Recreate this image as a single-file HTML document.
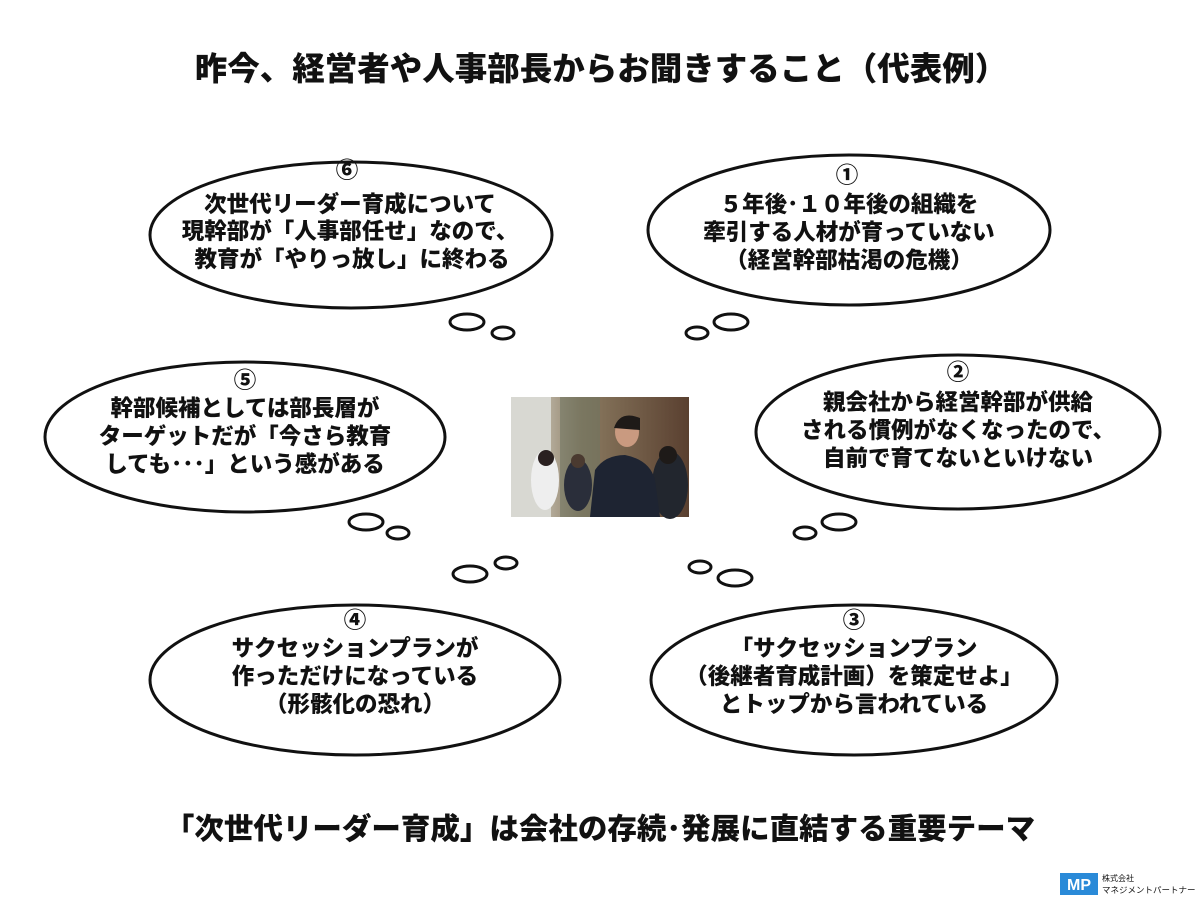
<!DOCTYPE html>
<html><head><meta charset="utf-8"><style>
body{margin:0;background:#fff;}
svg text{font-family:"Liberation Sans","Noto Sans CJK JP",sans-serif;font-weight:900;fill:#111;}
</style></head><body>
<svg width="1200" height="900" viewBox="0 0 1200 900" xmlns="http://www.w3.org/2000/svg">
<defs>
<linearGradient id="bg" x1="0" x2="1"><stop offset="0" stop-color="#e6e6e0"/><stop offset="0.4" stop-color="#8a7a60"/><stop offset="1" stop-color="#5a4030"/></linearGradient>
</defs>
<text x="601" y="80" font-size="32.5" text-anchor="middle">昨今、経営者や人事部長からお聞きすること（代表例）</text>
<g fill="#fff" stroke="#111" stroke-width="3">
<ellipse cx="351" cy="235" rx="201" ry="73"/>
<ellipse cx="467" cy="322" rx="17" ry="8"/><ellipse cx="503" cy="333" rx="11" ry="6"/>
<ellipse cx="849" cy="230" rx="201" ry="75"/>
<ellipse cx="731" cy="322" rx="17" ry="8"/><ellipse cx="697" cy="333" rx="11" ry="6"/>
<ellipse cx="245" cy="437" rx="200" ry="75"/>
<ellipse cx="366" cy="522" rx="17" ry="8"/><ellipse cx="398" cy="533" rx="11" ry="6"/>
<ellipse cx="958" cy="432" rx="202" ry="77"/>
<ellipse cx="839" cy="522" rx="17" ry="8"/><ellipse cx="805" cy="533" rx="11" ry="6"/>
<ellipse cx="355" cy="680" rx="205" ry="75"/>
<ellipse cx="470" cy="574" rx="17" ry="8"/><ellipse cx="506" cy="563" rx="11" ry="6"/>
<ellipse cx="854" cy="680" rx="203" ry="75"/>
<ellipse cx="735" cy="578" rx="17" ry="8"/><ellipse cx="700" cy="567" rx="11" ry="6"/>
</g>
<g font-size="22.5" text-anchor="middle">
<text x="347" y="178">⑥</text>
<text x="350" y="212">次世代リーダー育成について</text>
<text x="350" y="239">現幹部が「人事部任せ」なので、</text>
<text x="352" y="267">教育が「やりっ放し」に終わる</text>
<text x="847" y="183">①</text>
<text x="849" y="212">５年後･１０年後の組織を</text>
<text x="849" y="240">牽引する人材が育っていない</text>
<text x="849" y="268">（経営幹部枯渇の危機）</text>
<text x="245" y="388">⑤</text>
<text x="245" y="416">幹部候補としては部長層が</text>
<text x="245" y="444">ターゲットだが「今さら教育</text>
<text x="245" y="472">しても･･･」という感がある</text>
<text x="958" y="380">②</text>
<text x="958" y="410">親会社から経営幹部が供給</text>
<text x="958" y="438">される慣例がなくなったので、</text>
<text x="958" y="466">自前で育てないといけない</text>
<text x="355" y="628">④</text>
<text x="355" y="656">サクセッションプランが</text>
<text x="355" y="684">作っただけになっている</text>
<text x="355" y="712">（形骸化の恐れ）</text>
<text x="854" y="628">③</text>
<text x="854" y="656">「サクセッションプラン</text>
<text x="854" y="684">（後継者育成計画）を策定せよ」</text>
<text x="854" y="712">とトップから言われている</text>
</g>
<g>
<rect x="511" y="397" width="178" height="120" fill="url(#bg)"/>
<rect x="511" y="397" width="40" height="120" fill="#d8d8d2"/>
<rect x="560" y="397" width="40" height="120" fill="#6f7560" opacity="0.6"/>
<ellipse cx="545" cy="480" rx="14" ry="30" fill="#eeeeee"/>
<circle cx="546" cy="458" r="8" fill="#2a2020"/>
<ellipse cx="578" cy="485" rx="14" ry="26" fill="#2a2e3a"/>
<circle cx="578" cy="461" r="7" fill="#4a3a30"/>
<ellipse cx="670" cy="485" rx="18" ry="34" fill="#22262e"/>
<circle cx="668" cy="455" r="9" fill="#1e1a18"/>
<path d="M590 517 L595 470 Q605 455 625 455 Q650 460 655 480 L660 517 Z" fill="#1e2432"/>
<ellipse cx="627" cy="432" rx="12" ry="15" fill="#c99a80"/>
<path d="M614 428 Q620 410 640 418 L640 430 Z" fill="#1e1a18"/>
</g>
<text x="600" y="839" font-size="29.5" text-anchor="middle">「次世代リーダー育成」は会社の存続･発展に直結する重要テーマ</text>
<g>
<rect x="1060" y="873" width="38" height="22" fill="#2a8ad8"/>
<text x="1079" y="890" font-size="16" text-anchor="middle" style="fill:#fff">MP</text>
<text x="1102" y="881" font-size="8" style="font-weight:normal">株式会社</text>
<text x="1102" y="893" font-size="8.5" style="font-weight:normal">マネジメントパートナー</text>
</g>
</svg>
</body></html>
